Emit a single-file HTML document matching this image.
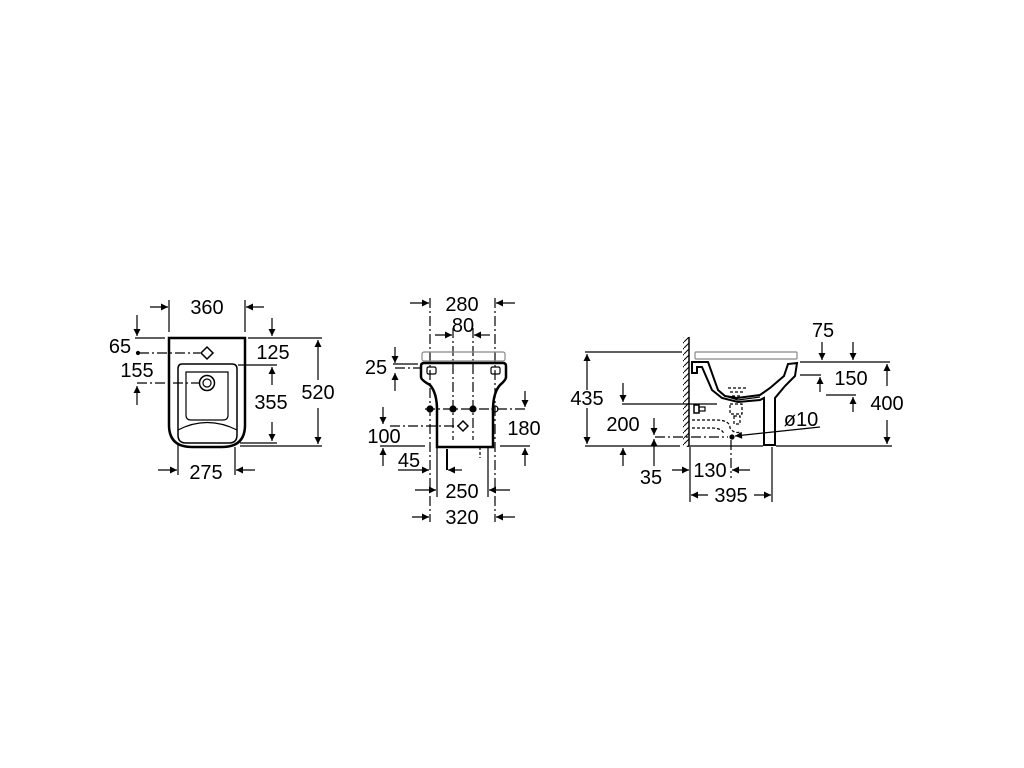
<!DOCTYPE html>
<html><head><meta charset="utf-8"><style>
html,body{margin:0;padding:0;background:#fff}
svg{display:block}
text{font-family:"Liberation Sans",Arial,sans-serif;font-size:20px;fill:#000}
</style></head><body>
<svg width="1024" height="768" viewBox="0 0 1024 768" xmlns="http://www.w3.org/2000/svg">
<defs>
<marker id="a" viewBox="0 0 10 10" refX="10" refY="5" markerWidth="11" markerHeight="7" orient="auto-start-reverse" markerUnits="userSpaceOnUse"><path d="M0,0L10,5L0,10z" fill="#000"/></marker>
<pattern id="h" width="6" height="6" patternUnits="userSpaceOnUse"><path d="M0,6L6,0" stroke="#000" stroke-width="1"/></pattern>
</defs>
<g stroke="#000" stroke-width="1.2" fill="none">
<!-- VIEW 1 -->
<line x1="169" y1="300" x2="169" y2="332"/><line x1="245" y1="300" x2="245" y2="332"/>
<line x1="150" y1="307" x2="168" y2="307" marker-end="url(#a)"/><line x1="264" y1="307" x2="246" y2="307" marker-end="url(#a)"/>
<path d="M169,338H245V425Q245,447 222,447H192Q169,447 169,425Z" stroke-width="2.5"/>
<path d="M182,364H232Q237,364 237,369V435Q237,443 229,443H186Q178,443 178,435V369Q178,364 182,364Z" stroke-width="1.5"/>
<path d="M186,372H228V415Q228,420 223,420H191Q186,420 186,415Z"/>
<path d="M178,430Q207,415 237,430"/>
<line x1="137" y1="315" x2="137" y2="336" marker-end="url(#a)"/>
<line x1="135" y1="338" x2="165" y2="338"/>
<line x1="139" y1="353" x2="200" y2="353" stroke-dasharray="10,3,2,3"/>
<circle cx="138" cy="353" r="1.5" fill="#000"/>
<path d="M207,347L213,353L207,359L201,353Z" stroke-width="1.5"/>
<line x1="137" y1="383" x2="200" y2="383" stroke-dasharray="10,3,2,3"/>
<circle cx="207" cy="383" r="7.5" stroke-width="1.5"/><circle cx="207" cy="383" r="4"/>
<line x1="137" y1="405" x2="137" y2="386" marker-end="url(#a)"/>
<line x1="272" y1="318" x2="272" y2="336" marker-end="url(#a)"/>
<line x1="248" y1="338" x2="322" y2="338"/>
<line x1="238" y1="365" x2="277" y2="365"/>
<line x1="272" y1="385" x2="272" y2="367" marker-end="url(#a)"/>
<line x1="272" y1="422" x2="272" y2="441" marker-end="url(#a)"/>
<line x1="240" y1="443" x2="277" y2="443"/>
<line x1="318" y1="380" x2="318" y2="340" marker-end="url(#a)"/>
<line x1="318" y1="408" x2="318" y2="444" marker-end="url(#a)"/>
<line x1="240" y1="446" x2="322" y2="446"/>
<line x1="178" y1="443" x2="178" y2="475"/><line x1="235" y1="447" x2="235" y2="475"/>
<line x1="158" y1="470" x2="177" y2="470" marker-end="url(#a)"/><line x1="255" y1="470" x2="236" y2="470" marker-end="url(#a)"/>

<!-- VIEW 2 -->
<g stroke-dasharray="10,3,2,3">
<line x1="430" y1="298" x2="430" y2="522"/><line x1="495" y1="298" x2="495" y2="522"/>
<line x1="453" y1="328" x2="453" y2="440"/><line x1="473" y1="328" x2="473" y2="440"/>
<line x1="395" y1="368" x2="420" y2="368"/>
<line x1="425" y1="409" x2="525" y2="409"/>
<line x1="390" y1="426" x2="460" y2="426"/>
</g>
<line x1="410" y1="303" x2="429" y2="303" marker-end="url(#a)"/><line x1="515" y1="303" x2="496" y2="303" marker-end="url(#a)"/>
<line x1="435" y1="335" x2="452" y2="335" marker-end="url(#a)"/><line x1="490" y1="335" x2="474" y2="335" marker-end="url(#a)"/>
<rect x="422" y="352" width="83" height="9" rx="2" stroke="#888"/>
<path d="M424,363H503Q506,363 506,366V377Q506,380 500,385Q493,393 493,410V447H437V410Q437,393 430,385Q421,380 421,377V366Q421,363 424,363Z" stroke-width="2.5"/>
<rect x="427" y="367" width="9" height="7" rx="1.5"/><rect x="491" y="367" width="9" height="7" rx="1.5"/>
<line x1="395" y1="347" x2="395" y2="363" marker-end="url(#a)"/>
<line x1="395" y1="391" x2="395" y2="373" marker-end="url(#a)"/>
<line x1="393" y1="364" x2="418" y2="364"/>
<g fill="#000"><circle cx="430" cy="409" r="3"/><circle cx="453" cy="409" r="3"/><circle cx="473" cy="409" r="3"/></g>
<circle cx="495" cy="409" r="3"/>
<path d="M463,421L468,426L463,431L458,426Z" stroke-width="1.5"/>
<line x1="383" y1="407" x2="383" y2="424" marker-end="url(#a)"/>
<line x1="380" y1="446" x2="425" y2="446"/>
<line x1="383" y1="466" x2="383" y2="448" marker-end="url(#a)"/>
<line x1="447" y1="449" x2="447" y2="470" stroke-width="2"/>
<line x1="480" y1="447" x2="480" y2="458" stroke-dasharray="3,2"/>
<line x1="398" y1="470" x2="429" y2="470" marker-end="url(#a)"/><line x1="462" y1="470" x2="448" y2="470" marker-end="url(#a)"/>
<line x1="437" y1="447" x2="437" y2="497"/><line x1="488" y1="447" x2="488" y2="497"/>
<line x1="415" y1="490" x2="436" y2="490" marker-end="url(#a)"/><line x1="510" y1="490" x2="489" y2="490" marker-end="url(#a)"/>
<line x1="412" y1="517" x2="429" y2="517" marker-end="url(#a)"/><line x1="515" y1="517" x2="496" y2="517" marker-end="url(#a)"/>
<line x1="525" y1="391" x2="525" y2="407" marker-end="url(#a)"/>
<line x1="500" y1="446" x2="530" y2="446"/>
<line x1="525" y1="466" x2="525" y2="448" marker-end="url(#a)"/>

<!-- VIEW 3 -->
<rect x="683" y="337" width="6" height="110" fill="url(#h)" stroke="none"/>
<line x1="689" y1="337" x2="689" y2="447" stroke-width="1.5"/>
<line x1="585" y1="352" x2="682" y2="352"/>
<line x1="585" y1="446" x2="680" y2="446"/><line x1="690" y1="446" x2="763" y2="446"/><line x1="776" y1="446" x2="892" y2="446"/>
<line x1="587" y1="390" x2="587" y2="354" marker-end="url(#a)"/>
<line x1="587" y1="408" x2="587" y2="444" marker-end="url(#a)"/>
<line x1="623" y1="383" x2="623" y2="402" marker-end="url(#a)"/>
<line x1="622" y1="404" x2="717" y2="404"/>
<line x1="623" y1="466" x2="623" y2="448" marker-end="url(#a)"/>
<line x1="655" y1="437" x2="728" y2="437" stroke-dasharray="10,3,2,3"/>
<line x1="654" y1="418" x2="654" y2="435" marker-end="url(#a)"/>
<line x1="654" y1="466" x2="654" y2="439" marker-end="url(#a)"/>
<rect x="695" y="352" width="102" height="7" rx="1" stroke="#888"/>
<path d="M692,362H708L718,390L725,396L737,398L760,395L770,388L784,376L788,364L797,363L795,376L785,386L775,398V445H764V398L760,400L738,402L722,398L712,390L702,367H697V373H692Z" stroke-width="2"/>
<path d="M725,396L738,400L760,397" />
<g stroke-dasharray="3,2">
<path d="M728,388h18M730,392h14M732,396h10"/>
<path d="M730,404h12v10h-12zM734,416h6v8h-6z"/>
<path d="M692,420H716Q730,420 730,428Q734,434 740,432M692,428H712Q722,428 724,434"/>
</g>
<rect x="694" y="405" width="5" height="8" stroke-width="1.5"/><rect x="699" y="407" width="6" height="4"/>
<circle cx="732" cy="437" r="2" fill="#000"/>
<line x1="820" y1="427" x2="735" y2="436" marker-end="url(#a)"/>
<line x1="731" y1="440" x2="731" y2="478" stroke-dasharray="10,3,2,3"/>
<line x1="690" y1="447" x2="690" y2="502"/><line x1="772" y1="447" x2="772" y2="502"/>
<line x1="672" y1="470" x2="689" y2="470" marker-end="url(#a)"/><line x1="750" y1="470" x2="732" y2="470" marker-end="url(#a)"/>
<line x1="708" y1="495" x2="691" y2="495" marker-end="url(#a)"/><line x1="754" y1="495" x2="771" y2="495" marker-end="url(#a)"/>
<line x1="800" y1="362" x2="890" y2="362"/>
<line x1="822" y1="342" x2="822" y2="360" marker-end="url(#a)"/>
<line x1="853" y1="342" x2="853" y2="360" marker-end="url(#a)"/>
<line x1="800" y1="375" x2="821" y2="375"/>
<line x1="820" y1="392" x2="820" y2="377" marker-end="url(#a)"/>
<line x1="826" y1="395" x2="856" y2="395"/>
<line x1="853" y1="412" x2="853" y2="397" marker-end="url(#a)"/>
<line x1="887" y1="386" x2="887" y2="364" marker-end="url(#a)"/>
<line x1="887" y1="420" x2="887" y2="444" marker-end="url(#a)"/>
</g>
<g text-anchor="middle">
<text x="207" y="314">360</text>
<text x="120" y="353">65</text>
<text x="137" y="377">155</text>
<text x="273" y="359">125</text>
<text x="271" y="409">355</text>
<text x="318" y="399">520</text>
<text x="206" y="479">275</text>
<text x="462" y="311">280</text>
<text x="463" y="332">80</text>
<text x="376" y="374">25</text>
<text x="384" y="443">100</text>
<text x="409" y="467">45</text>
<text x="524" y="435">180</text>
<text x="462" y="498">250</text>
<text x="462" y="524">320</text>
<text x="587" y="405">435</text>
<text x="623" y="431">200</text>
<text x="651" y="484">35</text>
<text x="710" y="477">130</text>
<text x="731" y="502">395</text>
<text x="823" y="337">75</text>
<text x="801" y="426">ø10</text>
<text x="851" y="385">150</text>
<text x="887" y="410">400</text>
</g>
</svg>
</body></html>
